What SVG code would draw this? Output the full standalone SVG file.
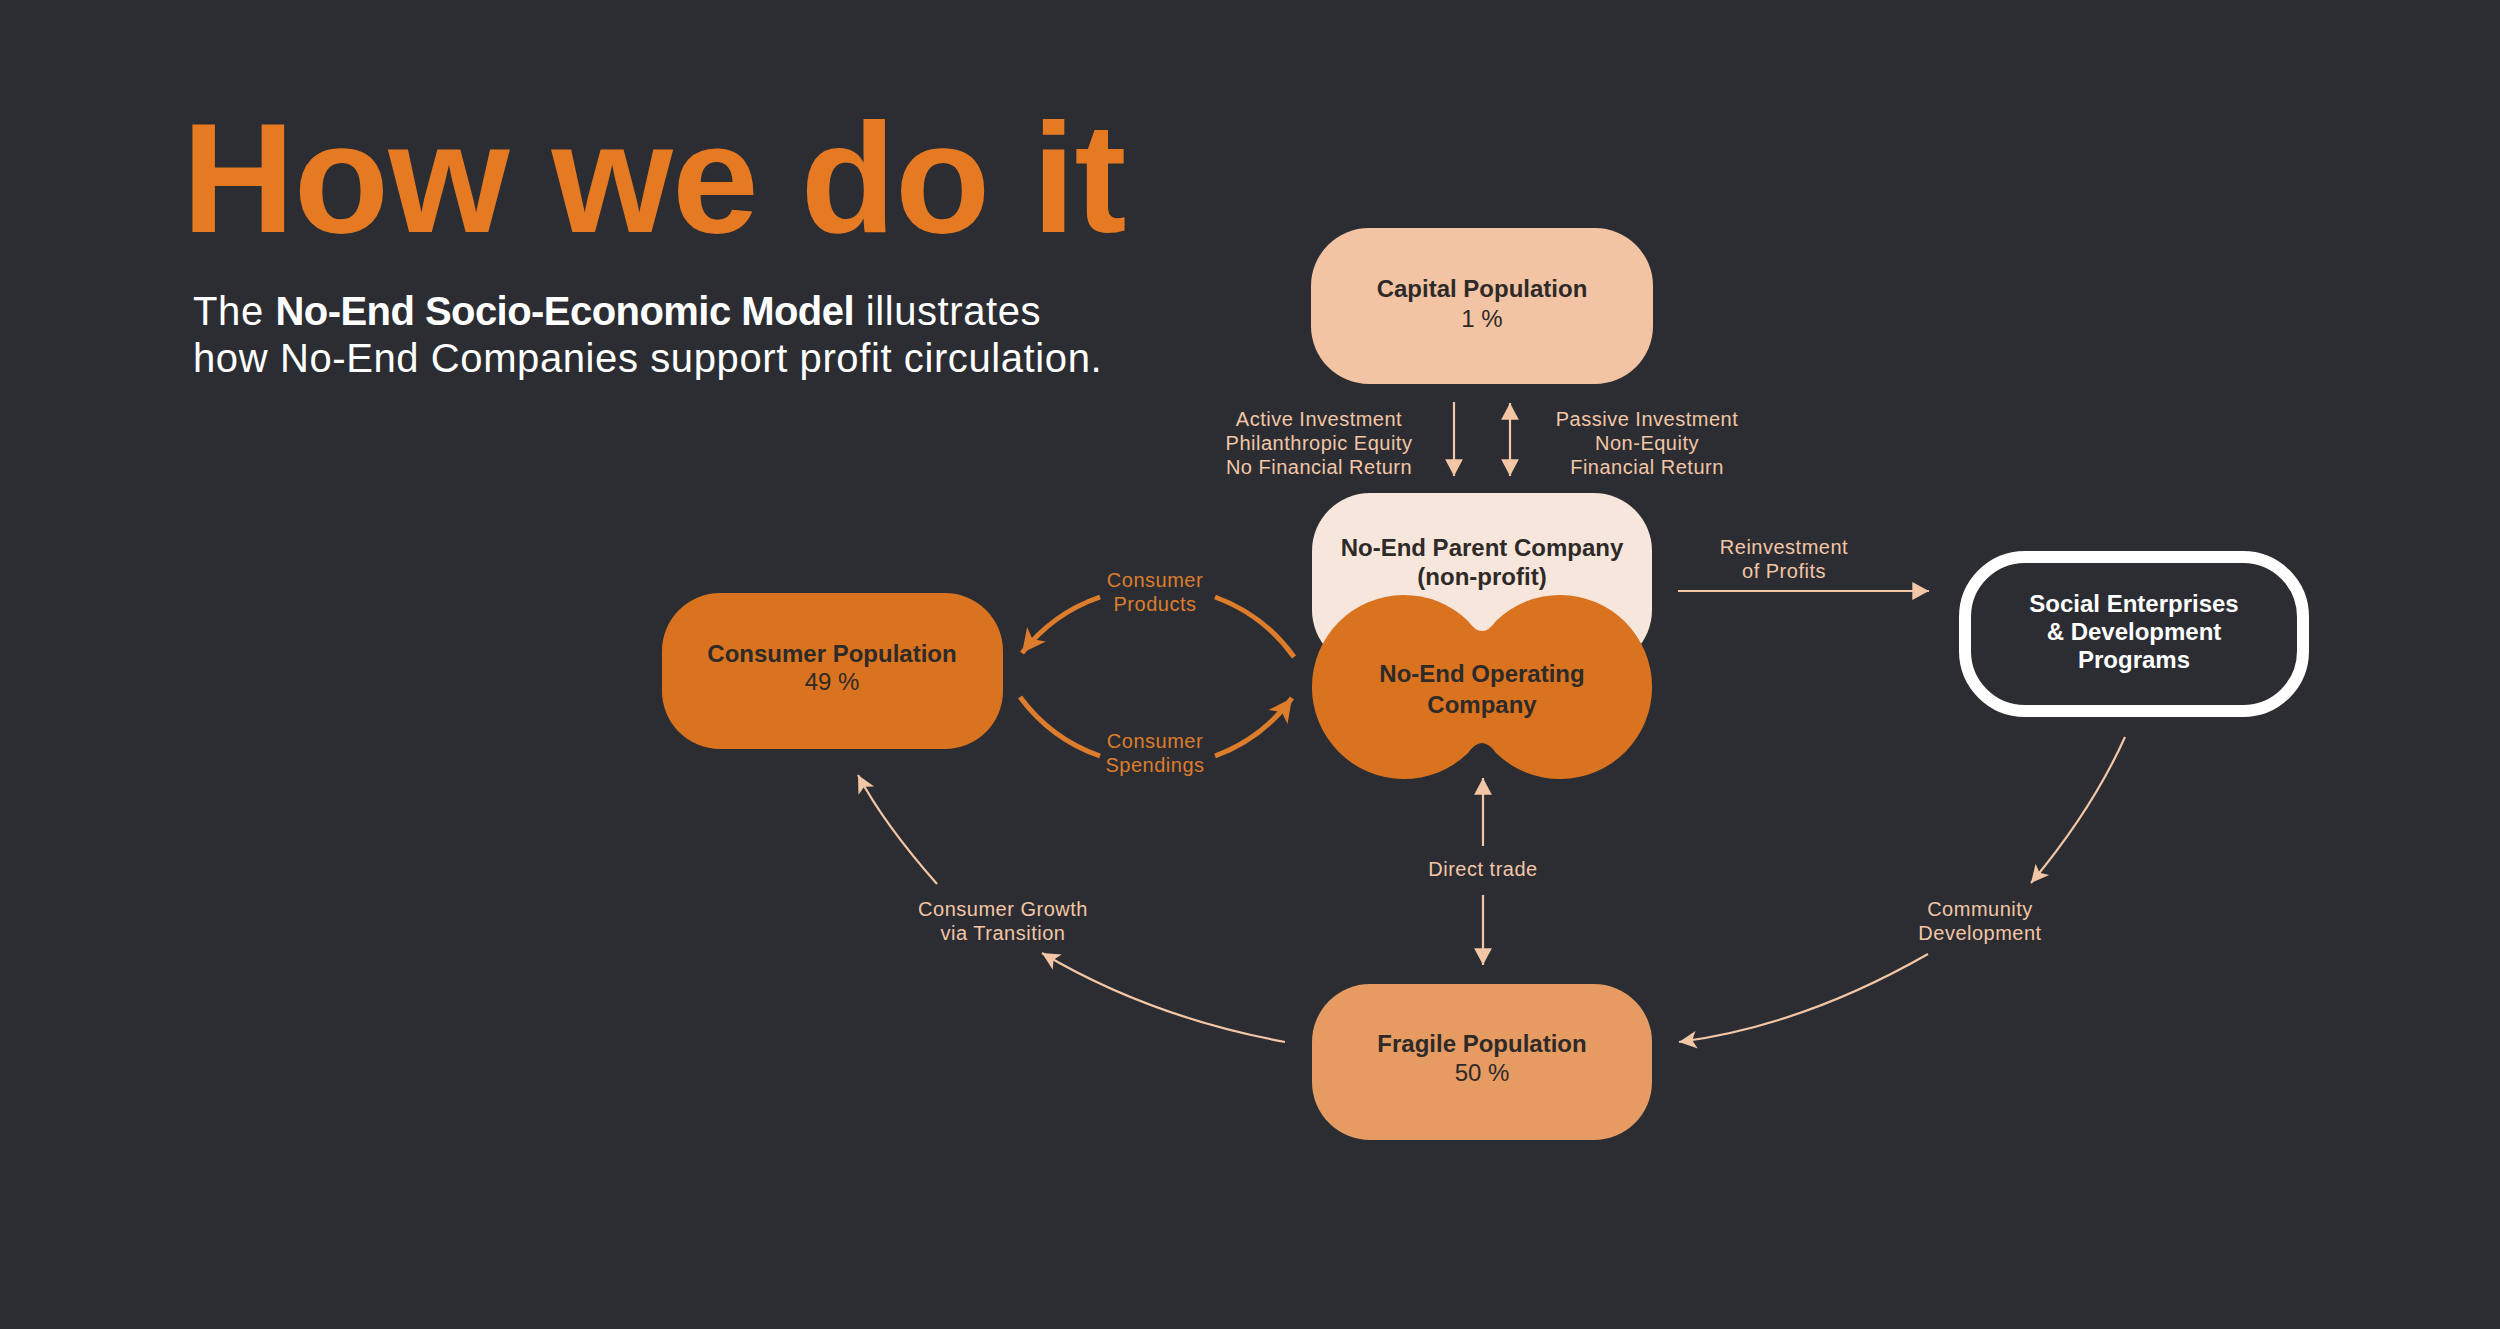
<svg xmlns="http://www.w3.org/2000/svg" width="2500" height="1329" viewBox="0 0 2500 1329">
<style>
  .node-text { font-family: "Liberation Sans", Arial, sans-serif; font-size: 24px; fill: #2E2A28; text-anchor: middle; }
  .b { font-weight: bold; }
  .lbl { font-family: "Liberation Sans", Arial, sans-serif; font-size: 20px; fill: #F3C6A5; text-anchor: middle; letter-spacing: 0.5px; }
  .lbl-o { font-family: "Liberation Sans", Arial, sans-serif; font-size: 20px; fill: #DD7D2C; text-anchor: middle; letter-spacing: 0.5px; }
  .thin { fill: none; stroke: #F3C6A5; stroke-width: 2.2; }
  .thick { fill: none; stroke: #DD7D2C; stroke-width: 5; }
</style>
<defs>
  <marker id="tri" markerUnits="userSpaceOnUse" markerWidth="20" markerHeight="20" viewBox="-16 -9 18 18" refX="0" refY="0" orient="auto-start-reverse">
    <path d="M0,0 L-15,-8 L-15,8 Z" fill="#F3C6A5"/>
  </marker>
  <marker id="stealth" markerUnits="userSpaceOnUse" markerWidth="20" markerHeight="20" viewBox="-16 -9 18 18" refX="0" refY="0" orient="auto">
    <path d="M0,0 L-16,-8 L-12,0 L-16,8 Z" fill="#F3C6A5"/>
  </marker>
  <marker id="ostealth" markerUnits="userSpaceOnUse" markerWidth="28" markerHeight="28" viewBox="-24 -13 26 26" refX="0" refY="0" orient="auto">
    <path d="M0,0 L-22,-11 L-16,0 L-22,11 Z" fill="#DD7D2C"/>
  </marker>
</defs>
<rect x="0" y="0" width="2500" height="1329" fill="#2B2D33"/>

<g id="title">
  <text x="182" y="232" font-family="Liberation Sans, Arial, sans-serif" font-weight="bold" font-size="156" letter-spacing="-0.8" fill="#E57A22">How we do it</text>
  <text x="193" y="325" font-family="Liberation Sans, Arial, sans-serif" font-size="40" fill="#FFFFFF" letter-spacing="0.6">The <tspan font-weight="bold" letter-spacing="-0.55">No-End Socio-Economic Model</tspan> illustrates</text>
  <text x="193" y="372" font-family="Liberation Sans, Arial, sans-serif" font-size="40" fill="#FFFFFF" letter-spacing="0.6">how No-End Companies support profit circulation.</text>
</g>

<g id="connectors">
  <line class="thin" x1="1454" y1="402" x2="1454" y2="476" marker-end="url(#tri)"/>
  <line class="thin" x1="1510" y1="403" x2="1510" y2="476" marker-start="url(#tri)" marker-end="url(#tri)"/>
  <line class="thin" x1="1678" y1="591" x2="1929" y2="591" marker-end="url(#tri)"/>
  <line class="thin" x1="1483" y1="846" x2="1483" y2="778" marker-end="url(#tri)"/>
  <line class="thin" x1="1483" y1="895" x2="1483" y2="965" marker-end="url(#tri)"/>
  <path class="thick" d="M 1294 657 A 168 168 0 0 0 1215 597"/>
  <path class="thick" d="M 1100 597 A 168 168 0 0 0 1022 653" marker-end="url(#ostealth)"/>
  <path class="thick" d="M 1020 697 A 168 168 0 0 0 1100 756"/>
  <path class="thick" d="M 1215 756 A 168 168 0 0 0 1292 698" marker-end="url(#ostealth)"/>
  <path class="thin" d="M 1285 1042 Q 1150 1017 1042 953" marker-end="url(#stealth)"/>
  <path class="thin" d="M 937 884 Q 884 824 858 775" marker-end="url(#stealth)"/>
  <path class="thin" d="M 2125 737 Q 2092 810 2031 883" marker-end="url(#stealth)"/>
  <path class="thin" d="M 1928 954 Q 1802 1026 1679 1042" marker-end="url(#stealth)"/>

  <text class="lbl" x="1319" y="426">Active Investment</text>
  <text class="lbl" x="1319" y="450">Philanthropic Equity</text>
  <text class="lbl" x="1319" y="474">No Financial Return</text>
  <text class="lbl" x="1647" y="426">Passive Investment</text>
  <text class="lbl" x="1647" y="450">Non-Equity</text>
  <text class="lbl" x="1647" y="474">Financial Return</text>
  <text class="lbl" x="1784" y="554">Reinvestment</text>
  <text class="lbl" x="1784" y="578">of Profits</text>
  <text class="lbl-o" x="1155" y="587">Consumer</text>
  <text class="lbl-o" x="1155" y="611">Products</text>
  <text class="lbl-o" x="1155" y="748">Consumer</text>
  <text class="lbl-o" x="1155" y="772">Spendings</text>
  <text class="lbl" x="1483" y="876">Direct trade</text>
  <text class="lbl" x="1003" y="916">Consumer Growth</text>
  <text class="lbl" x="1003" y="940">via Transition</text>
  <text class="lbl" x="1980" y="916">Community</text>
  <text class="lbl" x="1980" y="940">Development</text>
</g>

<g id="capital">
  <rect x="1311" y="228" width="342" height="156" rx="58" fill="#F2C4A4"/>
  <text class="node-text b" x="1482" y="297">Capital Population</text>
  <text class="node-text" x="1482" y="327">1 %</text>
</g>

<g id="parent">
  <rect x="1312" y="493" width="340" height="175" rx="58" fill="#F6E6DC"/>
  <text class="node-text b" x="1482" y="556">No-End Parent Company</text>
  <text class="node-text b" x="1482" y="585">(non-profit)</text>
</g>

<g id="operating">
  <path d="M 1468 621 Q 1482 641 1496 621 A 92 92 0 1 1 1496 753 Q 1482 733 1468 753 A 92 92 0 1 1 1468 621 Z" fill="#D9731F"/>
  <text class="node-text b" x="1482" y="682">No-End Operating</text>
  <text class="node-text b" x="1482" y="713">Company</text>
</g>

<g id="consumer">
  <rect x="662" y="593" width="341" height="156" rx="58" fill="#D9731F"/>
  <text class="node-text b" x="832" y="662">Consumer Population</text>
  <text class="node-text" x="832" y="690">49 %</text>
</g>

<g id="fragile">
  <rect x="1312" y="984" width="340" height="156" rx="58" fill="#E59B62"/>
  <text class="node-text b" x="1482" y="1052">Fragile Population</text>
  <text class="node-text" x="1482" y="1081">50 %</text>
</g>

<g id="social">
  <rect x="1965" y="557" width="338" height="154" rx="60" fill="none" stroke="#FFFFFF" stroke-width="12"/>
  <text class="node-text b" x="2134" y="612" style="fill:#FFFFFF">Social Enterprises</text>
  <text class="node-text b" x="2134" y="640" style="fill:#FFFFFF">&amp; Development</text>
  <text class="node-text b" x="2134" y="668" style="fill:#FFFFFF">Programs</text>
</g>
</svg>
